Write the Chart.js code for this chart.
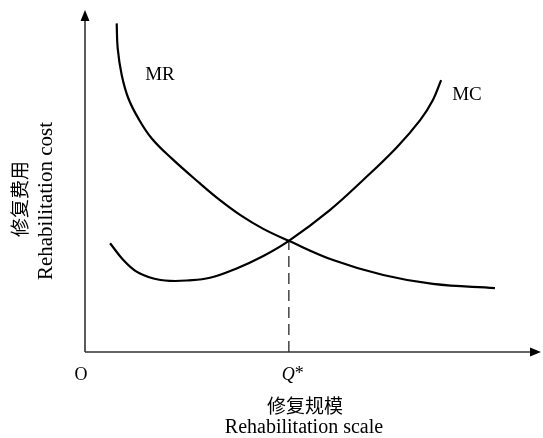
<!DOCTYPE html>
<html>
<head>
<meta charset="utf-8">
<script src="https://cdn.jsdelivr.net/npm/chart.js@4.4.1/dist/chart.umd.min.js"></script>
<style>
  html, body { margin: 0; padding: 0; background: #fff; }
  #wrap { width: 543px; height: 438px; }
</style>
</head>
<body>
<div id="wrap"><canvas id="chart" width="543" height="438"></canvas></div>
<script>
//Curvas (unidades de escala 0-100)
const mrX = [6.95, 7.17, 8.05, 9.5, 11.7, 14.6, 19.0, 25.2, 29.6, 34.0, 39.1, 44.7, 54.4, 65.4, 76.3, 89.9];
const mrY = [96.1, 88.8, 81.0, 74.2, 68.3, 62.5, 56.6, 49.3, 44.4, 40.1, 36.0, 32.5, 26.9, 22.5, 19.9, 18.7];

const mcX = [5.5, 8.4, 11.3, 15.0, 18.6, 22.3, 27.4, 33.0, 39.0, 44.7, 53.7, 61.0, 68.4, 73.5, 76.3, 78.1];
const mcY = [31.8, 26.9, 23.5, 21.5, 20.8, 20.9, 21.7, 24.3, 28.0, 32.5, 41.5, 50.3, 59.9, 67.8, 73.7, 79.5];

//Equilibrio Q*
const qStar = 44.7;
const qStarCost = 32.5;

//Etiquetas
const curveLabels = { mr: "MR", mc: "MC" };
const xTitle = ["修复规模", "Rehabilitation scale"];
const yTitle = ["修复费用", "Rehabilitation cost"];
const tickLabels = { origin: "O", q: "Q", star: "*" };

const SERIF = "'Liberation Serif', 'Times New Roman', serif";
const CJK = "'Noto Sans CJK SC', sans-serif";

function toPoints(xs, ys) { return xs.map((x, i) => ({ x, y: ys[i] })); }

//Ejes con flechas y textos
const annotate = {
  id: "annotate",
  afterDraw(chart) {
    const { ctx, scales: { x, y } } = chart;
    const x0 = x.getPixelForValue(0), y0 = y.getPixelForValue(0);
    const xEnd = x.getPixelForValue(100), yEnd = y.getPixelForValue(100);
    ctx.save();
    ctx.strokeStyle = "#333";
    ctx.fillStyle = "#000";
    ctx.lineWidth = 1.6;
    ctx.beginPath();
    ctx.moveTo(x0, y0); ctx.lineTo(x0, yEnd + 9);
    ctx.moveTo(x0, y0); ctx.lineTo(xEnd - 9, y0);
    ctx.stroke();
    //flechas
    ctx.beginPath();
    ctx.moveTo(x0, yEnd); ctx.lineTo(x0 - 4.5, yEnd + 11); ctx.lineTo(x0 + 4.5, yEnd + 11); ctx.closePath();
    ctx.fill();
    ctx.beginPath();
    ctx.moveTo(xEnd, y0); ctx.lineTo(xEnd - 11, y0 - 4.5); ctx.lineTo(xEnd - 11, y0 + 4.5); ctx.closePath();
    ctx.fill();

    ctx.textBaseline = "middle";
    ctx.textAlign = "center";
    ctx.font = "18px " + SERIF;
    ctx.fillText(tickLabels.origin, x0 - 4, y0 + 23);
    const qx = x.getPixelForValue(qStar);
    ctx.font = "italic 18px " + SERIF;
    const qw = ctx.measureText(tickLabels.q).width;
    ctx.textAlign = "left";
    ctx.fillText(tickLabels.q, qx - 7, y0 + 23);
    ctx.font = "18px " + SERIF;
    ctx.fillText(tickLabels.star, qx - 7 + qw, y0 + 22);

    ctx.textAlign = "center";
    ctx.font = "19px " + SERIF;
    ctx.fillText(curveLabels.mr, 160, 75);
    ctx.fillText(curveLabels.mc, 467, 95);

    //títulos
    ctx.font = "19px " + CJK;
    ctx.fillText(xTitle[0], 305, 406);
    ctx.font = "20px " + SERIF;
    ctx.fillText(xTitle[1], 304, 428);

    ctx.save();
    ctx.translate(20, 199);
    ctx.rotate(-Math.PI / 2);
    ctx.font = "19px " + CJK;
    ctx.fillText(yTitle[0], 0, 0);
    ctx.restore();
    ctx.save();
    ctx.translate(46, 201);
    ctx.rotate(-Math.PI / 2);
    ctx.font = "21px " + SERIF;
    ctx.fillText(yTitle[1], 0, 0);
    ctx.restore();
    ctx.restore();
  }
};

new Chart(document.getElementById("chart"), {
  type: "scatter",
  data: {
    datasets: [
      { label: "MR", data: toPoints(mrX, mrY), showLine: true, borderColor: "#000", borderWidth: 2.2,
        pointRadius: 0, tension: 0.4, fill: false },
      { label: "MC", data: toPoints(mcX, mcY), showLine: true, borderColor: "#000", borderWidth: 2.2,
        pointRadius: 0, tension: 0.4, fill: false },
      { label: "Q*", data: [{ x: qStar, y: 0 }, { x: qStar, y: qStarCost }], showLine: true,
        borderColor: "#444", borderWidth: 1.5, borderDash: [11, 6], pointRadius: 0 }
    ]
  },
  options: {
    responsive: false,
    animation: false,
    layout: { padding: { left: 85, right: 2, top: 10, bottom: 86 } },
    plugins: { legend: { display: false }, tooltip: { enabled: false } },
    scales: {
      x: { type: "linear", min: 0, max: 100, display: false },
      y: { type: "linear", min: 0, max: 100, display: false }
    }
  },
  plugins: [annotate]
});
</script>
</body>
</html>
